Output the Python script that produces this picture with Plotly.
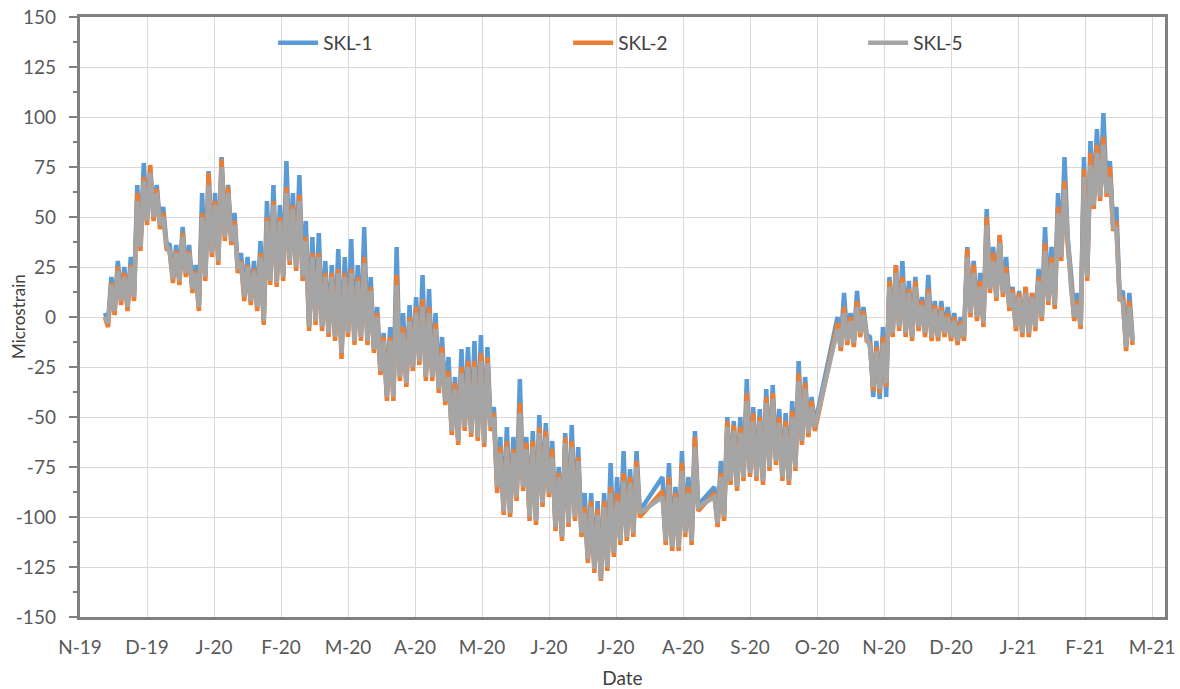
import pandas as pd
import plotly.graph_objects as go

# ---- logger record: 3-day bins (start dates); gaps in the record between segments
segments = [("2019-11-12", "2020-07-15"),
            ("2020-07-27", "2020-08-11"),
            ("2020-08-20", "2020-10-04"),
            ("2020-10-16", "2021-02-28")]

# ---- daily maxima (read per bin) -------------------------------------------
skl1_max = [
    2, 20, 28, 25, 30, 66, 77, 74, 66, 55,
    36, 36, 45, 36, 26, 62, 73, 62, 80, 66,
    52, 32, 30, 28, 38, 58, 66, 56, 78, 62,
    71, 48, 40, 42, 28, 26, 34, 30, 39, 26,
    45, 20, 5, -8, -5, 35, 2, 6, 10, 21,
    14, 2, -10, -20, -30, -16, -15, -12, -9, -15,
    -45, -60, -55, -60, -31, -60, -57, -49, -53, -62,
    -75, -58, -54, -65, -88, -88, -92, -88, -73, -80,
    -67, -76, -67,
    -80, -73, -85, -67, -80, -57,
    -85, -72, -50, -52, -50, -31, -45, -46, -36, -34, -46, -48, -42, -22, -30, -40,
    0, 12, 2, 13, 5, -10, -12, -5, 20, 26,
    28, 18, 20, 10, 21, 8, 8, 5, 2, 0,
    35, 28, 22, 54, 35, 41, 30, 15, 13, 15,
    12, 24, 45, 35, 62, 80, 22, 12, 80, 88,
    94, 102, 78, 55, 13, 12]

skl2_max = [
    0, 17, 25, 22, 26, 62, 70, 76, 64, 52,
    33, 33, 42, 33, 23, 52, 72, 58, 79, 65,
    48, 28, 26, 24, 32, 50, 58, 50, 65, 56,
    61, 40, 32, 32, 22, 22, 24, 22, 24, 20,
    30, 15, 2, -10, -10, 21, -5, 0, 5, 9,
    5, -3, -15, -27, -33, -25, -22, -22, -18, -20,
    -48, -65, -62, -66, -43, -63, -62, -55, -57, -66,
    -78, -60, -62, -70, -95, -92, -96, -92, -85, -88,
    -78, -80, -72,
    -87, -80, -88, -73, -85, -60,
    -88, -78, -52, -54, -55, -38, -48, -50, -40, -38, -50, -52, -47, -28, -33, -42,
    -3, 5, 0, 8, 3, -13, -15, -10, 18, 26,
    20, 14, 18, 8, 14, 6, 5, 2, 0, -2,
    34, 26, 18, 50, 32, 41, 25, 14, 12, 15,
    12, 20, 37, 30, 55, 68, 18, 8, 74, 82,
    86, 90, 75, 48, 10, 8]

skl5_max = [
    0, 16, 23, 20, 25, 58, 68, 72, 62, 50,
    32, 32, 40, 32, 22, 50, 66, 56, 75, 62,
    46, 27, 25, 23, 30, 48, 56, 48, 62, 54,
    58, 38, 30, 30, 20, 20, 22, 20, 22, 18,
    27, 13, 0, -12, -12, 16, -8, -2, 2, 5,
    2, -6, -18, -30, -36, -28, -25, -25, -22, -23,
    -50, -68, -65, -68, -48, -66, -65, -58, -60, -70,
    -80, -63, -65, -72, -98, -95, -99, -95, -88, -92,
    -82, -83, -75,
    -90, -84, -90, -77, -88, -65,
    -90, -80, -55, -57, -58, -42, -52, -52, -43, -41, -53, -55, -50, -32, -36, -45,
    -6, 2, -2, 5, 1, -15, -17, -13, 15, 22,
    17, 12, 15, 6, 12, 4, 3, 0, -2, -4,
    30, 22, 15, 46, 28, 37, 22, 12, 10, 12,
    10, 18, 33, 27, 52, 64, 15, 6, 70, 76,
    82, 86, 70, 44, 7, 5]

# ---- daily minima (read per bin) -------------------------------------------
skl1_min = [
    -2, 4, 9, 6, 11, 36, 49, 51, 47, 37,
    20, 19, 23, 15, 6, 21, 33, 29, 41, 39,
    25, 11, 9, 6, -1, 19, 18, 21, 29, 26,
    21, -4, -1, -4, -7, -9, -17, -7, -11, -9,
    -11, -15, -26, -39, -39, -29, -32, -24, -21, -29,
    -29, -35, -41, -56, -61, -54, -57, -59, -62, -54,
    -84, -96, -97, -89, -84, -99, -101, -92, -87, -104,
    -109, -102, -99, -107, -120, -125, -130, -124, -117, -111,
    -109, -107, -97,
    -111, -114, -114, -107, -111, -94,
    -102, -99, -81, -84, -79, -77, -79, -81, -74, -71, -79, -81, -74, -61, -57, -54,
    -14, -11, -12, -7, -9, -40, -41, -40, -7, -4,
    -7, -9, -4, -7, -9, -9, -7, -9, -11, -9,
    3, 1, -2, 15, 11, 13, 6, -4, -7, -7,
    -4, 1, 9, 7, 31, 39, 1, -3, 21, 57,
    61, 63, 46, 11, -14, -11]

skl2_min = [
    -5, 1, 6, 3, 8, 33, 46, 48, 44, 34,
    17, 16, 20, 12, 3, 18, 30, 26, 38, 36,
    22, 8, 6, 3, -4, 16, 15, 18, 26, 23,
    18, -7, -4, -7, -10, -12, -21, -10, -14, -12,
    -14, -18, -29, -42, -42, -32, -35, -27, -24, -32,
    -32, -38, -44, -59, -64, -57, -60, -62, -65, -57,
    -88, -99, -100, -92, -87, -102, -104, -95, -90, -107,
    -112, -105, -102, -110, -123, -128, -132, -127, -120, -114,
    -112, -110, -100,
    -114, -117, -117, -110, -114, -97,
    -105, -102, -84, -87, -82, -80, -82, -84, -77, -74, -82, -84, -77, -64, -60, -57,
    -17, -14, -15, -10, -12, -37, -38, -35, -10, -7,
    -10, -12, -7, -10, -12, -12, -10, -12, -14, -12,
    0, -2, -5, 12, 8, 10, 3, -7, -10, -10,
    -7, -2, 6, 4, 28, 36, -2, -6, 18, 54,
    58, 60, 43, 8, -17, -14]

skl5_min = [
    -3, 3, 8, 5, 10, 35, 48, 50, 46, 36,
    19, 18, 22, 14, 5, 20, 32, 28, 40, 38,
    24, 10, 8, 5, -2, 18, 17, 20, 28, 25,
    20, -5, -2, -5, -8, -10, -18, -8, -12, -10,
    -12, -16, -27, -40, -40, -30, -33, -25, -22, -30,
    -30, -36, -42, -57, -62, -55, -58, -60, -63, -55,
    -85, -97, -98, -90, -85, -100, -102, -93, -88, -105,
    -110, -103, -100, -108, -121, -126, -131, -125, -118, -112,
    -110, -108, -98,
    -112, -115, -115, -108, -112, -95,
    -103, -100, -82, -85, -80, -78, -80, -82, -75, -72, -80, -82, -75, -62, -58, -55,
    -15, -12, -13, -8, -10, -35, -36, -33, -8, -5,
    -8, -10, -5, -8, -10, -10, -8, -10, -12, -10,
    2, 0, -3, 14, 10, 12, 5, -5, -8, -8,
    -5, 0, 8, 6, 30, 38, 0, -4, 20, 56,
    60, 62, 45, 10, -15, -12]

tick_labels = ["N-19", "D-19", "J-20", "F-20", "M-20", "A-20", "M-20", "J-20", "J-20",
               "A-20", "S-20", "O-20", "N-20", "D-20", "J-21", "F-21", "M-21"]
y_ticks = [-150, -125, -100, -75, -50, -25, 0, 25, 50, 75, 100, 125, 150]

series_names = ["SKL-1", "SKL-2", "SKL-5"]
series_colors = ["#5B9BD5", "#ED7D31", "#A5A5A5"]

# ---- build time stamps ------------------------------------------------------
bins = pd.DatetimeIndex([])
for s, e in segments:
    bins = bins.append(pd.date_range(s, e, freq="3D"))
t_max = bins + pd.Timedelta(hours=12)
t_min = bins + pd.Timedelta(hours=48)

x = []
for a, b in zip(t_max, t_min):
    x += [a, b]


def weave(hi, lo):
    assert len(hi) == len(bins) and len(lo) == len(bins)
    out = []
    for a, b in zip(hi, lo):
        out += [a, b]
    return out


data = [(skl1_max, skl1_min), (skl2_max, skl2_min), (skl5_max, skl5_min)]

fig = go.Figure()
for (hi, lo), name, col in zip(data, series_names, series_colors):
    fig.add_trace(go.Scatter(x=x, y=weave(hi, lo), mode="lines", name=name,
                             line=dict(color=col, width=4.5, shape="linear")))

tick_dates = pd.date_range("2019-11-01", periods=len(tick_labels), freq="31D")

FONT = "Lato, 'Open Sans', sans-serif"
fig.update_layout(
    width=1180, height=689,
    margin=dict(l=80, r=15, t=17, b=72, autoexpand=False),
    paper_bgcolor="white", plot_bgcolor="white",
    font=dict(family=FONT, size=19, color="#595959"),
    showlegend=True,
    legend=dict(orientation="h", x=0.178, y=0.957, xanchor="left", yanchor="middle",
                entrywidth=240, entrywidthmode="pixels", itemwidth=40,
                font=dict(family=FONT, size=19, color="#404040"),
                bgcolor="rgba(0,0,0,0)"),
    xaxis=dict(type="date", range=["2019-11-01", "2021-03-17"],
               tickvals=list(tick_dates), ticktext=tick_labels,
               showgrid=True, gridcolor="#D9D9D9", gridwidth=1,
               ticks="", showline=True, linecolor="#808080", linewidth=2.5, mirror=True,
               tickfont=dict(size=19, color="#595959"), ticklabelstandoff=11,
               title=dict(text="Date", font=dict(size=19, color="#404040"), standoff=22),
               zeroline=False, automargin=False),
    yaxis=dict(range=[-150, 150], tickvals=y_ticks,
               ticktext=[str(v) + "\u2002" for v in y_ticks],
               showgrid=True, gridcolor="#D9D9D9", gridwidth=1,
               ticks="outside", ticklen=8, tickwidth=2, tickcolor="#808080",
               minor=dict(ticks="outside", ticklen=4, tickwidth=2, tickcolor="#808080",
                          dtick=12.5, tick0=-150, showgrid=False),
               showline=True, linecolor="#808080", linewidth=2.5, mirror=True,
               tickfont=dict(size=19, color="#595959"),
               zeroline=False, automargin=False),
    annotations=[dict(text="Microstrain", xref="paper", yref="paper",
                      x=-62 / 1085, y=0.5, xanchor="center", yanchor="middle",
                      textangle=-90, showarrow=False,
                      font=dict(family=FONT, size=17, color="#404040"))],
)

fig.write_html("out.html", post_script="document.body.style.margin='0';",
               config={"displayModeBar": False})
